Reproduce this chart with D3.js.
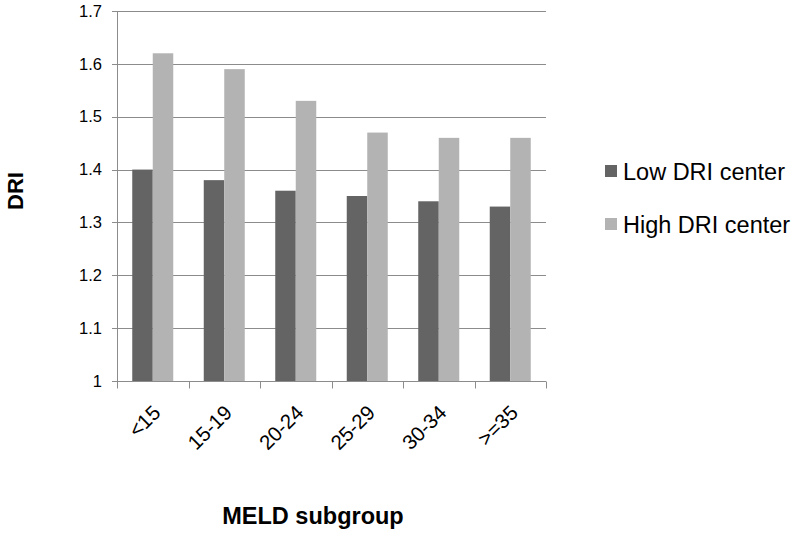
<!DOCTYPE html>
<html>
<head>
<meta charset="utf-8">
<script src="https://cdn.jsdelivr.net/npm/d3@7"></script>
<style>
  body { margin: 0; background: #fff; }
  text { font-family: "Liberation Sans", Arial, sans-serif; fill: #000; }
</style>
</head>
<body>
<svg id="canvas"></svg>
<script>
const categories = ["<15", "15-19", "20-24", "25-29", "30-34", ">=35"];
const seriesNames = ["Low DRI center", "High DRI center"];
const lowValues = [1.40, 1.38, 1.36, 1.35, 1.34, 1.33];
const highValues = [1.62, 1.59, 1.53, 1.47, 1.46, 1.46];
const yTicks = [1, 1.1, 1.2, 1.3, 1.4, 1.5, 1.6, 1.7];
const colors = ["#646464", "#b3b3b3"];

function getChartConfig() {
  let canvasWidth = 800,
    canvasHeight = 535;
  let margin = { top: 11, left: 117, right: 254, bottom: 154 };
  let width = canvasWidth - margin.left - margin.right;
  let height = canvasHeight - margin.top - margin.bottom;
  let svg = d3.select("#canvas")
    .attr("width", canvasWidth)
    .attr("height", canvasHeight);
  return { canvasWidth, canvasHeight, margin, width, height, svg };
}

function getChartScales(config) {
  let { margin, width, height } = config;
  let xScale = d3.scaleBand()
    .domain(categories)
    .range([margin.left, margin.left + width])
    .padding(0);
  let groupScale = d3.scaleBand()
    .domain(seriesNames)
    .range([0, xScale.bandwidth()])
    .paddingInner(0)
    .paddingOuter(0.744);
  let yScale = d3.scaleLinear()
    .domain([1, 1.7])
    .range([margin.top + height, margin.top]);
  let cScale = d3.scaleOrdinal().domain(seriesNames).range(colors);
  return { xScale, groupScale, yScale, cScale };
}

function drawAxes(scales, config) {
  let { xScale, yScale } = scales;
  let { svg, margin, width, height } = config;
  const lineColor = "#8c8c8c";

  // horizontal gridlines with small outside ticks
  svg.append("g")
    .selectAll("line")
    .data(yTicks.slice(1))
    .enter()
    .append("line")
    .attr("x1", margin.left - 5)
    .attr("x2", margin.left + width)
    .attr("y1", (d) => Math.round(yScale(d)) + 0.5)
    .attr("y2", (d) => Math.round(yScale(d)) + 0.5)
    .attr("stroke", lineColor)
    .attr("stroke-width", 1);

  svg.append("g")
    .selectAll("text")
    .data(yTicks)
    .enter()
    .append("text")
    .attr("x", margin.left - 15)
    .attr("y", (d) => yScale(d))
    .attr("dy", "0.35em")
    .attr("text-anchor", "end")
    .style("font-size", "16.5px")
    .text((d) => d3.format("")(d));

  // y axis line
  svg.append("line")
    .attr("x1", margin.left + 0.5)
    .attr("x2", margin.left + 0.5)
    .attr("y1", margin.top)
    .attr("y2", margin.top + height)
    .attr("stroke", lineColor);

  // x axis
  let axisX = d3.axisBottom(xScale).tickSize(0).tickFormat("");
  let gx = svg.append("g")
    .attr("transform", `translate(0,${margin.top + height + 0.5})`)
    .call(axisX);
  gx.select(".domain").attr("stroke", lineColor).attr("d", `M${margin.left - 5},0H${margin.left + width}`);

  let boundaries = categories.map((c) => xScale(c)).concat([xScale.range()[1]]);
  gx.selectAll(".bound")
    .data(boundaries)
    .enter()
    .append("line")
    .attr("class", "bound")
    .attr("x1", (d) => Math.round(d) + 0.5)
    .attr("x2", (d) => Math.round(d) + 0.5)
    .attr("y1", 0)
    .attr("y2", 7)
    .attr("stroke", lineColor);

  svg.append("g")
    .selectAll("text")
    .data(categories)
    .enter()
    .append("text")
    .attr("text-anchor", "end")
    .style("font-size", "20.5px")
    .attr("transform", (d) => {
      let x = xScale(d) + xScale.bandwidth() / 2 + 9;
      let y = margin.top + height + 33;
      return `translate(${x},${y}) rotate(-45)`;
    })
    .text((d) => d);

  svg.append("text")
    .attr("transform", `translate(23,${margin.top + height / 2 - 5}) rotate(-90)`)
    .attr("text-anchor", "middle")
    .style("font-size", "22px")
    .style("font-weight", "bold")
    .text("DRI");

  svg.append("text")
    .attr("x", 313)
    .attr("y", 524)
    .attr("text-anchor", "middle")
    .style("font-size", "23.5px")
    .style("font-weight", "bold")
    .text("MELD subgroup");
}

function drawChart(scales, config) {
  let { xScale, groupScale, yScale, cScale } = scales;
  let { svg } = config;
  let rows = categories.map((c, i) => ({
    category: c,
    values: [
      { series: seriesNames[0], value: lowValues[i] },
      { series: seriesNames[1], value: highValues[i] },
    ],
  }));

  let groups = svg.append("g")
    .selectAll("g")
    .data(rows)
    .enter()
    .append("g")
    .attr("transform", (d) => `translate(${xScale(d.category)},0)`);

  groups.selectAll("rect")
    .data((d) => d.values)
    .enter()
    .append("rect")
    .attr("x", (d) => groupScale(d.series))
    .attr("width", groupScale.bandwidth())
    .attr("y", (d) => yScale(d.value))
    .attr("height", (d) => yScale(1) - yScale(d.value))
    .attr("fill", (d) => cScale(d.series));
}

function drawLegend(scales, config) {
  let { cScale } = scales;
  let { svg } = config;
  let legend = svg.append("g")
    .selectAll("g")
    .data(seriesNames)
    .enter()
    .append("g")
    .attr("transform", (d, i) => `translate(605,${165 + i * 53})`);

  legend.append("rect")
    .attr("width", 12)
    .attr("height", 12)
    .attr("fill", (d) => cScale(d));

  legend.append("text")
    .attr("x", 18)
    .attr("y", 15)
    .style("font-size", "23.5px")
    .text((d) => d);
}

const config = getChartConfig();
const scales = getChartScales(config);
drawAxes(scales, config);
drawChart(scales, config);
drawLegend(scales, config);
</script>
</body>
</html>
